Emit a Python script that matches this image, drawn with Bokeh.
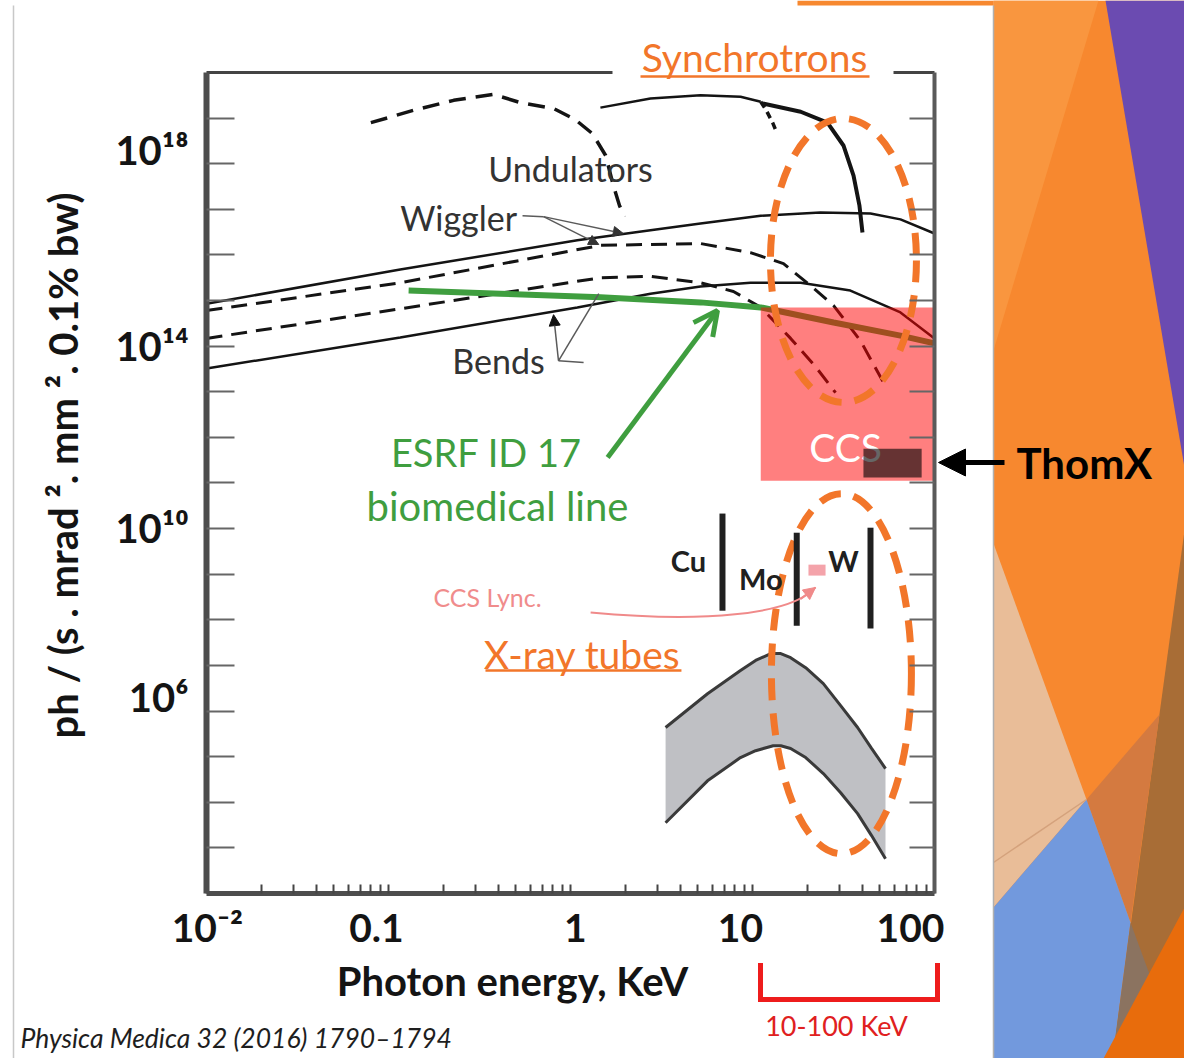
import numpy as np
from bokeh.plotting import figure
from bokeh.models import (Range1d, LogAxis, FixedTicker, CustomJSTickFormatter, Label,
                          Arrow, NormalHead, OpenHead, BoxAnnotation, PolyAnnotation)
from bokeh.core.properties import value
from bokeh.embed import file_html
from bokeh.resources import INLINE

# ---------------- data: photon energy (keV), brilliance as log10 ----------------
wiggler_solid_E = [0.01, 0.116, 1.09, 2.75, 5.18, 11.1, 23.6, 44.5, 65.0, 100.0]
wiggler_solid_logB = [14.93, 15.68, 16.32, 16.54, 16.69, 16.86, 16.93, 16.91, 16.78, 16.47]
wiggler_dash_E = [0.01, 0.116, 1.46, 5.18, 9.75, 14.8, 20.8, 27.9, 39.2, 52.5]
wiggler_dash_logB = [14.78, 15.39, 16.21, 16.25, 16.05, 15.81, 15.33, 14.89, 14.12, 13.20]
bend_dash_E = [0.01, 0.116, 1.46, 2.75, 5.18, 7.86, 11.1, 16.2, 22.2, 28.6]
bend_dash_logB = [14.17, 14.82, 15.50, 15.53, 15.39, 15.20, 14.85, 14.17, 13.55, 12.98]
bend_solid_E = [0.01, 0.116, 1.09, 2.75, 5.18, 9.75, 18.4, 34.5, 65.0, 100.0]
bend_solid_logB = [13.51, 14.19, 14.85, 15.15, 15.31, 15.39, 15.39, 15.22, 14.74, 14.17]
und_dash_E = [0.080, 0.137, 0.228, 0.377, 0.531, 0.807, 1.06, 1.32, 1.56, 1.72, 1.86, 1.98]
und_dash_logB = [18.90, 19.17, 19.39, 19.52, 19.34, 19.21, 18.97, 18.66, 18.18, 17.52, 17.08, 16.84]
und_solid1_E = [1.46, 2.75, 5.18, 8.6, 11.1]
und_solid1_logB = [19.23, 19.43, 19.50, 19.47, 19.36]
und_drop_E = [11.1, 11.9, 12.9, 13.6]
und_drop_logB = [19.36, 19.17, 18.90, 18.68]
und_solid2_E = [11.4, 18.4, 25.8, 31.6, 35.9, 38.7, 40.2]
und_solid2_logB = [19.32, 19.14, 18.90, 18.40, 17.74, 17.08, 16.49]
esrf_E = [0.129, 0.412, 1.46, 5.18, 11.1, 27.9, 65.0, 100.0]
esrf_logB = [15.22, 15.15, 15.07, 14.96, 14.85, 14.52, 14.23, 14.06]
tube_top_E = [3.33, 5.66, 8.59, 10.4, 12.6, 14.3, 16.2, 19.6, 24.5, 30.5, 37.8, 45.1, 53.8]
tube_top_logB = [5.64, 6.38, 6.89, 7.11, 7.26, 7.26, 7.17, 6.95, 6.60, 6.12, 5.64, 5.18, 4.74]
tube_bot_E = [3.33, 5.66, 8.59, 10.4, 13.0, 14.3, 16.2, 19.6, 24.5, 30.5, 37.8, 45.1, 53.8]
tube_bot_logB = [3.55, 4.47, 4.98, 5.13, 5.24, 5.24, 5.18, 4.98, 4.63, 4.21, 3.75, 3.27, 2.76]
kline_names = ["Cu", "Mo", "W"]
kline_E = [6.84, 17.5, 44.5]
kline_top_logB = [10.33, 9.91, 10.02]
kline_bot_logB = [8.20, 7.87, 7.81]
kline_label_E = [4.45, 11.1, 31.6]
kline_label_logB = [9.30, 8.90, 9.30]
ccs_E = [11.1, 100.0]
ccs_logB = [11.05, 14.85]
thomx_E = [40.7, 85.0]
thomx_logB = [11.12, 11.75]
lync_E = [20.3, 25.2]
lync_logB = [8.97, 9.21]

x_tick_pos = [10 ** -1.995, 10 ** -1.066, 10 ** 0.027, 10 ** 0.934, 10 ** 1.868]
x_tick_labels = ["10⁻²", "0.1", "1", "10", "100"]
y_tick_pos = [10 ** 6.3, 10 ** 10.02, 10 ** 14.0, 10 ** 18.29]
y_tick_labels = ["10⁶", "10¹⁰", "10¹⁴", "10¹⁸"]
x_minor_ticks = [m * 10.0 ** d for d in range(-2, 2) for m in range(1, 10)] + [100.0]
y_decades = [10.0 ** d for d in range(3, 20)]
x_bounds = (1e-2, 1e2)
y_bounds = (1e2, 1e20)


def B(a):
    return [10.0 ** v for v in a]


# ---------------- canvas geometry ----------------
# The frame spans the whole slide; the chart box (x 206..934, y 72..893 px)
# corresponds to 1e-2..1e2 keV and 1e2..1e20.
W, H = 1184, 1058
X_LOG_RANGE = (-3.13187, 3.37363)
Y_LOG_RANGE = (-1.6176, 21.5786)


def sx(X):
    return X


def sy(Y):
    return H - Y


FONT = "Lato"
BLACK = "#141414"
GREEN = "#3f9e3f"
ORANGE = "#F2762A"

p = figure(width=W, height=H, x_axis_type="log", y_axis_type="log",
           x_range=Range1d(10 ** X_LOG_RANGE[0], 10 ** X_LOG_RANGE[1]),
           y_range=Range1d(10 ** Y_LOG_RANGE[0], 10 ** Y_LOG_RANGE[1]),
           output_backend="svg", toolbar_location=None,
           min_border=0, min_border_left=0, min_border_right=0,
           min_border_top=0, min_border_bottom=0)
p.background_fill_color = "white"
p.border_fill_color = "white"
p.outline_line_color = None
p.grid.grid_line_color = None

JS = """
let best = 0, bd = 1e9;
const lt = Math.log10(tick);
for (let i = 0; i < pos.length; i++) {
  const d = Math.abs(Math.log10(pos[i]) - lt);
  if (d < bd) { bd = d; best = i; }
}
return labels[best];
"""

xa = p.xaxis[0]
xa.fixed_location = y_bounds[0]
xa.bounds = x_bounds
xa.ticker = FixedTicker(ticks=x_tick_pos, minor_ticks=x_minor_ticks)
xa.formatter = CustomJSTickFormatter(args=dict(pos=x_tick_pos, labels=x_tick_labels), code=JS)
xa.major_tick_line_color = None
xa.major_tick_in = 0
xa.major_tick_out = 0
xa.minor_tick_in = 9
xa.minor_tick_out = 0
xa.minor_tick_line_color = "#444444"
xa.minor_tick_line_width = 2
xa.axis_line_color = "#4d4d4d"
xa.axis_line_width = 5
xa.major_label_text_font = FONT
xa.major_label_text_font_style = "bold"
xa.major_label_text_font_size = "39px"
xa.major_label_text_color = BLACK
xa.major_label_standoff = 11

ya = p.yaxis[0]
ya.fixed_location = x_bounds[0]
ya.bounds = y_bounds
ya.ticker = FixedTicker(ticks=y_tick_pos, minor_ticks=y_decades)
ya.formatter = CustomJSTickFormatter(args=dict(pos=y_tick_pos, labels=y_tick_labels), code=JS)
ya.major_tick_line_color = None
ya.major_tick_in = 0
ya.major_tick_out = 0
ya.minor_tick_in = 28
ya.minor_tick_out = 0
ya.minor_tick_line_color = "#666666"
ya.minor_tick_line_width = 2
ya.axis_line_color = "#4d4d4d"
ya.axis_line_width = 6
ya.major_label_text_font = FONT
ya.major_label_text_font_style = "bold"
ya.major_label_text_font_size = "40px"
ya.major_label_text_color = BLACK
ya.major_label_standoff = 18

ra = LogAxis(fixed_location=x_bounds[1], bounds=y_bounds,
             ticker=FixedTicker(ticks=y_decades, minor_ticks=[]),
             major_tick_in=25, major_tick_out=0, major_tick_line_color="#666666",
             major_tick_line_width=2, minor_tick_line_color=None,
             major_label_text_color=None, major_label_text_font_size="1px",
             axis_line_color="#5a5a5a", axis_line_width=4)
p.add_layout(ra, "right")
ta = LogAxis(fixed_location=y_bounds[1], bounds=x_bounds,
             ticker=FixedTicker(ticks=[], minor_ticks=[]),
             major_tick_line_color=None, minor_tick_line_color=None,
             major_label_text_color=None, major_label_text_font_size="1px",
             axis_line_color="#444444", axis_line_width=3)
p.add_layout(ta, "above")

# ---------------- x-ray tube band ----------------
p.patch(tube_top_E + tube_bot_E[::-1], B(tube_top_logB) + B(tube_bot_logB)[::-1],
        fill_color="#bfc0c4", line_color=None)
p.line(tube_top_E, B(tube_top_logB), line_color="#3a3a3a", line_width=3)
p.line(tube_bot_E, B(tube_bot_logB), line_color="#3a3a3a", line_width=3)

# ---------------- synchrotron curves ----------------
DASH = "16 9"
p.line(wiggler_solid_E, B(wiggler_solid_logB), line_color=BLACK, line_width=2.5)
p.line(wiggler_dash_E, B(wiggler_dash_logB), line_color=BLACK, line_width=3, line_dash=DASH)
p.line(bend_solid_E, B(bend_solid_logB), line_color=BLACK, line_width=2.5)
p.line(bend_dash_E, B(bend_dash_logB), line_color=BLACK, line_width=3, line_dash=DASH)
p.line(und_dash_E, B(und_dash_logB), line_color=BLACK, line_width=3.5, line_dash="17 10")
p.line(und_solid1_E, B(und_solid1_logB), line_color=BLACK, line_width=2.5)
p.line(und_drop_E, B(und_drop_logB), line_color=BLACK, line_width=3.5, line_dash="7 5")
p.line(und_solid2_E, B(und_solid2_logB), line_color=BLACK, line_width=4)

# ESRF ID17
p.line(esrf_E, B(esrf_logB), line_color=GREEN, line_width=6)

# CCS region
p.quad(left=[ccs_E[0]], right=[ccs_E[1]], bottom=[10 ** ccs_logB[0]], top=[10 ** ccs_logB[1]],
       fill_color="#ff0000", fill_alpha=0.5, line_color=None)
p.text(x=[10 ** 1.511], y=[10 ** 11.78], text=["CCS"], text_font=value(FONT),
       text_font_size="39px", text_color="white", text_align="center", text_baseline="middle")
p.quad(left=[thomx_E[0]], right=[thomx_E[1]], bottom=[10 ** thomx_logB[0]], top=[10 ** thomx_logB[1]],
       fill_color="black", fill_alpha=0.6, line_color=None)

# orange dashed ellipses
p.ellipse(x=[31.6, 30.8], y=[10 ** 15.88, 10 ** 6.82], width=[146, 140], height=[284, 360],
          width_units="screen", height_units="screen", fill_color=None,
          line_color=ORANGE, line_width=7, line_dash="22 13")

# characteristic lines of tubes
p.segment(x0=kline_E, y0=B(kline_top_logB), x1=kline_E, y1=B(kline_bot_logB),
          line_color="#202020", line_width=6)
p.quad(left=[lync_E[0]], right=[lync_E[1]], bottom=[10 ** lync_logB[0]], top=[10 ** lync_logB[1]],
       fill_color="#f4a3aa", line_color=None)
PINK = "#f08a8a"
p.bezier(x0=[1.29], y0=[10 ** 8.16], x1=[22.2], y1=[10 ** 8.71],
         cx0=[5.18], cy0=[10 ** 7.94], cx1=[16.2], cy1=[10 ** 8.09],
         line_color=PINK, line_width=2)
p.add_layout(Arrow(end=NormalHead(size=12, fill_color=PINK, line_color=PINK),
                   x_start=18.4, y_start=10 ** 8.46, x_end=22.2, y_end=10 ** 8.71,
                   line_color=PINK, line_width=2))

# underline of "X-ray tubes"
p.segment(x0=[0.341], y0=[10 ** 6.89], x1=[4.07], y1=[10 ** 6.89], line_color=ORANGE, line_width=2.5)

# leader lines
GREY = "#5a5a5a"
p.segment(x0=[0.545, 0.859, 0.859], y0=[10 ** 16.86, 10 ** 13.68, 10 ** 13.68],
          x1=[0.711, 1.43, 1.18], y1=[10 ** 16.84, 10 ** 15.15, 10 ** 13.64],
          line_color=GREY, line_width=1.5)
for xe, ye in [(1.43, 16.23), (1.95, 16.47)]:
    p.add_layout(Arrow(end=NormalHead(size=10, fill_color="#333", line_color="#333"),
                       x_start=0.711, y_start=10 ** 16.84, x_end=xe, y_end=10 ** ye,
                       line_color=GREY, line_width=1.5))
p.add_layout(Arrow(end=NormalHead(size=11, fill_color="#111", line_color="#111"),
                   x_start=0.859, y_start=10 ** 13.68, x_end=0.807, y_end=10 ** 14.69,
                   line_color=GREY, line_width=1.5))

# green arrow
p.add_layout(Arrow(end=OpenHead(size=24, line_color=GREEN, line_width=5),
                   x_start=1.60, y_start=10 ** 11.56, x_end=6.42, y_end=10 ** 14.78,
                   line_color=GREEN, line_width=5))


def dlabel(x, ylog, text, size, color="#333333", style="normal"):
    p.add_layout(Label(x=x, y=10 ** ylog, text=text, text_font=FONT, text_font_size=size,
                       text_color=color, text_font_style=style,
                       text_align="center", text_baseline="middle"))


dlabel(1.0, 17.89, "Undulators", "34px")
dlabel(0.243, 16.82, "Wiggler", "34px")
dlabel(0.402, 13.68, "Bends", "34px")
dlabel(0.345, 11.67, "ESRF ID 17", "38px", GREEN)
dlabel(0.397, 10.50, "biomedical line", "40px", GREEN)
dlabel(0.35, 8.49, "CCS Lync.", "25px", "#f08c8c")
dlabel(1.16, 7.26, "X-ray tubes", "39px", ORANGE)
for nm, xe, yl in zip(kline_names, kline_label_E, kline_label_logB):
    dlabel(xe, yl, nm, "29px", "#202020", "bold")


# ---------------- slide decorations outside the chart ----------------
def poly(xs, ys, color):
    p.add_layout(PolyAnnotation(xs=[sx(v) for v in xs], ys=[sy(v) for v in ys],
                                xs_units="screen", ys_units="screen",
                                fill_color=color, fill_alpha=1, line_color=None))


poly([993, 1184, 1184, 993], [0, 0, 1058, 1058], "#f7882f")
poly([993, 1098, 993], [0, 0, 350], "#f9963f")
poly([1105, 1184, 1184], [0, 0, 467], "#6b4bb1")
poly([1184, 1184, 1112], [530, 1058, 1058], "#a86d36")
poly([1086, 1159, 1130], [799, 714, 922], "#d47a40")
poly([993, 1086, 993], [543, 799, 907], "#e9bd98")
poly([993, 1086, 1130, 1112, 993], [907, 799, 922, 1058, 1058], "#7299dd")
poly([1130, 1180, 1112], [922, 1058, 1058], "#8b7360")
poly([1184, 1184, 1103], [907, 1058, 1058], "#e86c0c")
poly([797, 993, 993, 797], [0, 0, 5, 5], "#f7882f")


def seg(x0, y0, x1, y1, color, width, cap="butt"):
    p.add_layout(Arrow(start=None, end=None, x_start=sx(x0), y_start=sy(y0), x_end=sx(x1), y_end=sy(y1),
                       start_units="screen", end_units="screen",
                       line_color=color, line_width=width, line_cap=cap))


seg(993, 862, 1086, 799, "#d4a27c", 1.5)
seg(13, 5, 13, 1058, "#c8c8c8", 1.5)
seg(993, 5, 993, 1058, "#b0b0b0", 1.5)

# "Synchrotrons" title breaking the top frame line
p.add_layout(BoxAnnotation(left=sx(612), right=sx(893), bottom=sy(80), top=sy(40),
                           left_units="screen", right_units="screen",
                           bottom_units="screen", top_units="screen",
                           fill_color="white", fill_alpha=1, line_color=None))
p.add_layout(Label(x=sx(754), y=sy(56), x_units="screen", y_units="screen", text="Synchrotrons",
                   text_font=FONT, text_font_size="39px", text_color=ORANGE,
                   text_align="center", text_baseline="middle"))
seg(640, 76, 869, 76, ORANGE, 2.5)

# ThomX arrow
p.add_layout(Arrow(end=NormalHead(size=27, fill_color="black", line_color="black"),
                   x_start=sx(1004), y_start=sy(462), x_end=sx(938), y_end=sy(462),
                   start_units="screen", end_units="screen", line_color="black", line_width=5))
p.add_layout(Label(x=sx(1016), y=sy(462), x_units="screen", y_units="screen", text="ThomX",
                   text_font=FONT, text_font_size="42px", text_font_style="bold", text_color="black",
                   text_align="left", text_baseline="middle"))

# axis titles
p.add_layout(Label(x=sx(512), y=sy(980), x_units="screen", y_units="screen",
                   text="Photon energy, KeV", text_font=FONT, text_font_size="40px",
                   text_font_style="bold", text_color=BLACK, text_align="center", text_baseline="middle"))
p.add_layout(Label(x=sx(62), y=sy(465), x_units="screen", y_units="screen", angle=np.pi / 2,
                   text="ph / (s . mrad ². mm ². 0.1% bw)", text_font=FONT, text_font_size="40px",
                   text_font_style="bold", text_color=BLACK, text_align="center", text_baseline="middle"))

# 10-100 keV bracket
RED = "#ee1c1c"
seg(760, 965, 760, 999, RED, 5, "square")
seg(760, 999, 937, 999, RED, 5, "square")
seg(937, 965, 937, 999, RED, 5, "square")
p.add_layout(Label(x=sx(836), y=sy(1025), x_units="screen", y_units="screen", text="10-100 KeV",
                   text_font=FONT, text_font_size="27px", text_color="#e02020",
                   text_align="center", text_baseline="middle"))

# citation
p.add_layout(Label(x=sx(20), y=sy(1037), x_units="screen", y_units="screen",
                   text="Physica Medica 32 (2016) 1790–1794", text_font=FONT, text_font_size="26.5px",
                   text_font_style="italic", text_color="#1e1e1e",
                   text_align="left", text_baseline="middle"))

open("out.html", "w").write(file_html(p, INLINE))
